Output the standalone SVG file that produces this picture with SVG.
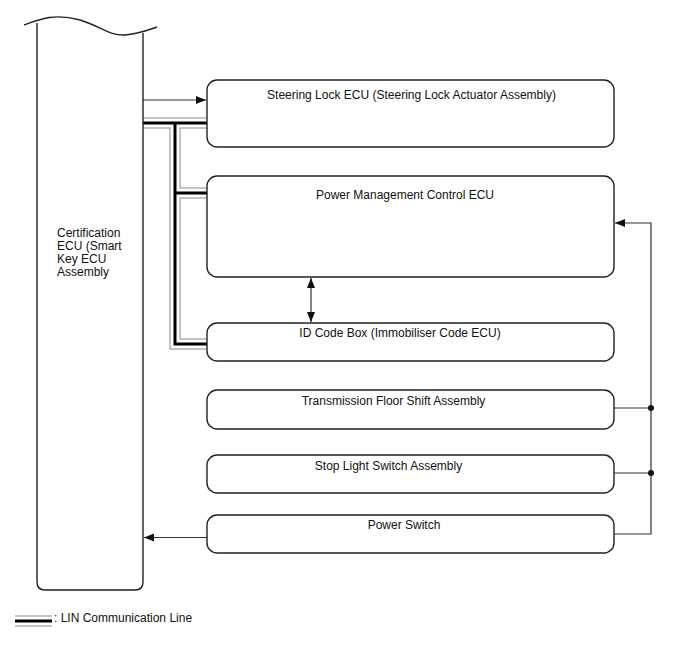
<svg xmlns="http://www.w3.org/2000/svg" width="688" height="658" viewBox="0 0 688 658">
<defs>
<marker id="ah" viewBox="0 0 10 8" refX="10" refY="4" markerWidth="10" markerHeight="8" markerUnits="userSpaceOnUse" orient="auto-start-reverse">
<path d="M0,0 L10,4 L0,8 Z" fill="#111"/>
</marker>
<style>
.box{fill:#fff;stroke:#222;stroke-width:1.4}
.t{font-family:"Liberation Sans",Arial,sans-serif;font-size:12px;fill:#111}
.c{text-anchor:middle}
.ln{fill:none;stroke:#333;stroke-width:1.2}
.g{fill:none;stroke:#8a8a8a;stroke-width:11;stroke-linejoin:miter}
.w{fill:none;stroke:#fff;stroke-width:9;stroke-linejoin:miter}
.k{fill:none;stroke:#000;stroke-width:3;stroke-linejoin:miter}
</style>
</defs>
<rect width="688" height="658" fill="#fff"/>

<g id="connectors">
<g id="lin-bus">
<path class="g" d="M143 123H207M175 123V344H207M175 193H207"/>
<path class="w" d="M143 123H207M175 123V344H207M175 193H207"/>
<path class="k" d="M143 123H207M175 123V344H207M175 193H207"/>
</g>
<path class="ln" d="M143 100H206" marker-end="url(#ah)"/>
<path class="ln" d="M311 278V322" marker-start="url(#ah)" marker-end="url(#ah)"/>
<path class="ln" d="M614 408H651M614 473H651M614 534H651V223H615" marker-end="url(#ah)"/>
<path class="ln" d="M207 537.5H144" marker-end="url(#ah)"/>
<circle cx="651" cy="408" r="3" fill="#111"/>
<circle cx="651" cy="473" r="3" fill="#111"/>
</g>

<g id="certification-ecu">
<path d="M37 23V582Q37 590 45 590H135Q143 590 143 582V33" fill="none" stroke="#222" stroke-width="1.4"/>
<path d="M24 25C40 19 55 13 80 20C100 26 110 36 125 35C138 34 145 31 157 27" fill="none" stroke="#222" stroke-width="1.4"/>
<text class="t" x="57" y="237">Certification</text>
<text class="t" x="57" y="250">ECU (Smart</text>
<text class="t" x="57" y="263">Key ECU</text>
<text class="t" x="57" y="276">Assembly</text>
</g>

<g id="steering-lock-ecu">
<rect class="box" x="207" y="80" width="407" height="67" rx="10"/>
<text class="t c" x="411.5" y="99">Steering Lock ECU (Steering Lock Actuator Assembly)</text>
</g>

<g id="power-management-ecu">
<rect class="box" x="207" y="176" width="407" height="101" rx="10"/>
<text class="t c" x="405" y="199">Power Management Control ECU</text>
</g>

<g id="id-code-box">
<rect class="box" x="207" y="323" width="407" height="38" rx="10"/>
<text class="t c" x="400" y="337">ID Code Box (Immobiliser Code ECU)</text>
</g>

<g id="transmission-floor-shift">
<rect class="box" x="207" y="390" width="407" height="39" rx="10"/>
<text class="t c" x="393.5" y="405">Transmission Floor Shift Assembly</text>
</g>

<g id="stop-light-switch">
<rect class="box" x="207" y="455" width="407" height="38" rx="10"/>
<text class="t c" x="388.5" y="470">Stop Light Switch Assembly</text>
</g>

<g id="power-switch">
<rect class="box" x="207" y="515" width="407" height="38" rx="10"/>
<text class="t c" x="404" y="529">Power Switch</text>
</g>

<g id="legend">
<path class="g" d="M15 621H52"/>
<path class="w" d="M15 621H52"/>
<path class="k" d="M15 621H52"/>
<text class="t" x="54" y="622">: LIN Communication Line</text>
</g>
</svg>
